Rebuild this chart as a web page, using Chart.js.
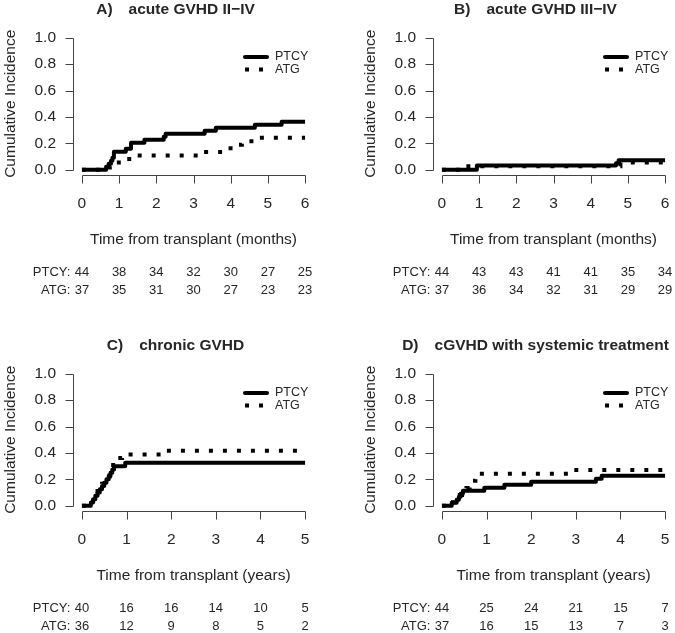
<!DOCTYPE html>
<html>
<head>
<meta charset="utf-8">
<script src="https://cdn.jsdelivr.net/npm/chart.js@4/dist/chart.umd.min.js"></script>
<style>
  body { margin: 0; background: #fff; }
  .panel { position: absolute; }
</style>
</head>
<body>
<canvas id="cA" class="panel" width="337" height="297" style="left:0;top:0"></canvas>
<canvas id="cB" class="panel" width="315" height="297" style="left:360px;top:0"></canvas>
<canvas id="cC" class="panel" width="337" height="297" style="left:0;top:336px"></canvas>
<canvas id="cD" class="panel" width="315" height="297" style="left:360px;top:336px"></canvas>
<script>
// tick labels
const monthTicks = [0, 1, 2, 3, 4, 5, 6];
const yearTicks = [0, 1, 2, 3, 4, 5];
const yTicks = [0, 0.2, 0.4, 0.6, 0.8, 1.0];

// A) acute GVHD II-IV (months)
const aPtcyTime = [0, 0.65, 0.72, 0.78, 0.82, 0.86, 1.18, 1.32, 1.68, 2.2, 2.25, 3.3, 3.6, 4.65, 5.37, 6];
const aPtcyCI   = [0, 0.023, 0.045, 0.068, 0.091, 0.136, 0.159, 0.205, 0.227, 0.25, 0.273, 0.295, 0.318, 0.341, 0.364, 0.364];
const aAtgTime  = [0, 0.75, 0.85, 1.05, 1.4, 3.15, 3.85, 4.05, 4.3, 4.65, 6];
const aAtgCI    = [0, 0.027, 0.054, 0.081, 0.108, 0.135, 0.162, 0.189, 0.216, 0.243, 0.243];
const aRiskPtcy = [44, 38, 34, 32, 30, 27, 25];
const aRiskAtg  = [37, 35, 31, 30, 27, 23, 23];

// B) acute GVHD III-IV (months)
const bPtcyTime = [0, 0.94, 4.68, 4.75, 6];
const bPtcyCI   = [0, 0.032, 0.05, 0.071, 0.071];
const bAtgTime  = [0, 0.65, 4.8, 6];
const bAtgCI    = [0, 0.027, 0.054, 0.054];
const bRiskPtcy = [44, 43, 43, 41, 41, 35, 34];
const bRiskAtg  = [37, 36, 34, 32, 31, 29, 29];

// C) chronic GVHD (years)
const cPtcyTime = [0, 0.2, 0.25, 0.3, 0.35, 0.4, 0.45, 0.5, 0.55, 0.6, 0.64, 0.68, 0.72, 0.97, 5];
const cPtcyCI   = [0, 0.025, 0.05, 0.075, 0.1, 0.125, 0.15, 0.175, 0.2, 0.225, 0.25, 0.275, 0.3, 0.325, 0.325];
const cAtgTime  = [0, 0.25, 0.35, 0.45, 0.55, 0.62, 0.7, 0.78, 0.9, 1.85, 5];
const cAtgCI    = [0, 0.056, 0.111, 0.167, 0.222, 0.278, 0.333, 0.361, 0.389, 0.417, 0.417];
const cRiskPtcy = [40, 16, 16, 14, 10, 5];
const cRiskAtg  = [36, 12, 9, 8, 5, 2];

// D) cGVHD with systemic treatment (years)
const dPtcyTime = [0, 0.22, 0.33, 0.38, 0.42, 0.47, 0.95, 1.4, 2.0, 3.45, 3.58, 5];
const dPtcyCI   = [0, 0.023, 0.045, 0.068, 0.091, 0.114, 0.136, 0.159, 0.182, 0.205, 0.227, 0.227];
const dAtgTime  = [0, 0.25, 0.35, 0.4, 0.45, 0.55, 0.62, 0.68, 0.75, 0.8, 2.9, 5];
const dAtgCI    = [0, 0.027, 0.054, 0.081, 0.108, 0.135, 0.162, 0.189, 0.216, 0.243, 0.27, 0.27];
const dRiskPtcy = [44, 25, 24, 21, 15, 7];
const dRiskAtg  = [37, 16, 15, 13, 7, 3];

const FONT = '"Liberation Sans", Arial, Helvetica, sans-serif';
const TXT = '#262626';

function toPoints(t, v) {
    return t.map((x, i) => ({ x: x, y: v[i] }));
}

const rStyle = {
    id: 'rStyle',
    afterDraw(chart, args, o) {
        const ctx = chart.ctx;
        const a = chart.chartArea;
        const x = chart.scales.x, y = chart.scales.y;
        const ticks = o.xTicks;
        ctx.save();

        // axes, R style (only over the data range)
        ctx.strokeStyle = '#444';
        ctx.lineWidth = 1;
        ctx.beginPath();
        const ax = Math.round(a.left) + 0.5;
        ctx.moveTo(ax, Math.round(y.getPixelForValue(0)) + 0.5);
        ctx.lineTo(ax, Math.round(y.getPixelForValue(1)) + 0.5);
        yTicks.forEach(v => {
            const p = Math.round(y.getPixelForValue(v)) + 0.5;
            ctx.moveTo(ax, p); ctx.lineTo(ax - 8, p);
        });
        const by = Math.round(a.bottom) + 0.5;
        ctx.moveTo(Math.round(x.getPixelForValue(ticks[0])) + 0.5, by);
        ctx.lineTo(Math.round(x.getPixelForValue(ticks[ticks.length - 1])) + 0.5, by);
        ticks.forEach(v => {
            const p = Math.round(x.getPixelForValue(v)) + 0.5;
            ctx.moveTo(p, by); ctx.lineTo(p, by + 8);
        });
        ctx.stroke();

        ctx.fillStyle = TXT;
        ctx.font = '15.5px ' + FONT;
        ctx.textBaseline = 'middle';
        ctx.textAlign = 'right';
        yTicks.forEach(v => ctx.fillText(v.toFixed(1), a.left - 17, y.getPixelForValue(v)));
        ctx.textAlign = 'center';
        ticks.forEach(v => ctx.fillText(String(v), x.getPixelForValue(v), a.bottom + 29));
        ctx.fillText(o.xTitle, (a.left + a.right) / 2, a.bottom + 65);

        ctx.save();
        ctx.translate(a.left - 62, (a.top + a.bottom) / 2);
        ctx.rotate(-Math.PI / 2);
        ctx.fillText('Cumulative Incidence', 0, 0);
        ctx.restore();

        // title
        ctx.font = 'bold 15.5px ' + FONT;
        const w1 = ctx.measureText(o.label).width;
        const w2 = ctx.measureText(o.title).width;
        const gap = 16;
        let tx = (a.left + a.right) / 2 - 18 - (w1 + gap + w2) / 2;
        ctx.textAlign = 'left';
        ctx.fillText(o.label, tx, a.top - 23);
        ctx.fillText(o.title, tx + w1 + gap, a.top - 23);

        // legend
        ctx.font = '12.5px ' + FONT;
        chart.data.datasets.forEach((ds, i) => {
            const ly = a.top + 24.5 + i * 12.5;
            ctx.save();
            ctx.strokeStyle = ds.borderColor;
            ctx.lineWidth = ds.borderWidth;
            ctx.setLineDash(ds.borderDash || []);
            ctx.lineCap = ds.borderDash ? 'butt' : 'round';
            ctx.beginPath();
            ctx.moveTo(a.right - 69, ly);
            ctx.lineTo(a.right - 47, ly);
            ctx.stroke();
            ctx.restore();
            ctx.fillText(ds.label, a.right - 39, ly);
        });

        // numbers at risk
        ctx.font = '13px ' + FONT;
        const rows = [['PTCY:', o.riskPtcy], ['ATG:', o.riskAtg]];
        rows.forEach((r, i) => {
            const ry = a.bottom + 97 + i * 18;
            ctx.textAlign = 'right';
            ctx.fillText(r[0], x.getPixelForValue(ticks[0]) - 11.5, ry);
            ctx.textAlign = 'center';
            r[1].forEach((n, j) => ctx.fillText(String(n), x.getPixelForValue(ticks[j]), ry));
        });
        ctx.restore();
    }
};

function makePanel(id, p) {
    const span = p.xTicks[p.xTicks.length - 1] - p.xTicks[0];
    return new Chart(document.getElementById(id), {
        type: 'line',
        data: {
            datasets: [
                { label: 'PTCY', data: toPoints(p.ptcyT, p.ptcyV), borderColor: '#000', borderWidth: 4,
                  stepped: true, pointRadius: 0, fill: false, borderJoinStyle: 'round' },
                { label: 'ATG', data: toPoints(p.atgT, p.atgV), borderColor: '#000', borderWidth: 4,
                  borderDash: [4, 10], stepped: true, pointRadius: 0, fill: false }
            ]
        },
        options: {
            responsive: false,
            animation: false,
            layout: { padding: { left: 73, right: p.right, top: 32.5, bottom: 122 } },
            scales: {
                x: { type: 'linear', display: false, min: p.xTicks[0] - 0.04 * span, max: p.xTicks[p.xTicks.length - 1] + 0.04 * span },
                y: { type: 'linear', display: false, min: -0.04, max: 1.04 }
            },
            plugins: {
                legend: { display: false },
                tooltip: { enabled: false },
                rStyle: p
            }
        },
        plugins: [rStyle]
    });
}

makePanel('cA', { label: 'A)', title: 'acute GVHD II\u2212IV', xTitle: 'Time from transplant (months)', xTicks: monthTicks,
    ptcyT: aPtcyTime, ptcyV: aPtcyCI, atgT: aAtgTime, atgV: aAtgCI, riskPtcy: aRiskPtcy, riskAtg: aRiskAtg, right: 23 });
makePanel('cB', { label: 'B)', title: 'acute GVHD III\u2212IV', xTitle: 'Time from transplant (months)', xTicks: monthTicks,
    ptcyT: bPtcyTime, ptcyV: bPtcyCI, atgT: bAtgTime, atgV: bAtgCI, riskPtcy: bRiskPtcy, riskAtg: bRiskAtg, right: 1 });
makePanel('cC', { label: 'C)', title: 'chronic GVHD', xTitle: 'Time from transplant (years)', xTicks: yearTicks,
    ptcyT: cPtcyTime, ptcyV: cPtcyCI, atgT: cAtgTime, atgV: cAtgCI, riskPtcy: cRiskPtcy, riskAtg: cRiskAtg, right: 23 });
makePanel('cD', { label: 'D)', title: 'cGVHD with systemic treatment', xTitle: 'Time from transplant (years)', xTicks: yearTicks,
    ptcyT: dPtcyTime, ptcyV: dPtcyCI, atgT: dAtgTime, atgV: dAtgCI, riskPtcy: dRiskPtcy, riskAtg: dRiskAtg, right: 1 });
</script>
</body>
</html>
